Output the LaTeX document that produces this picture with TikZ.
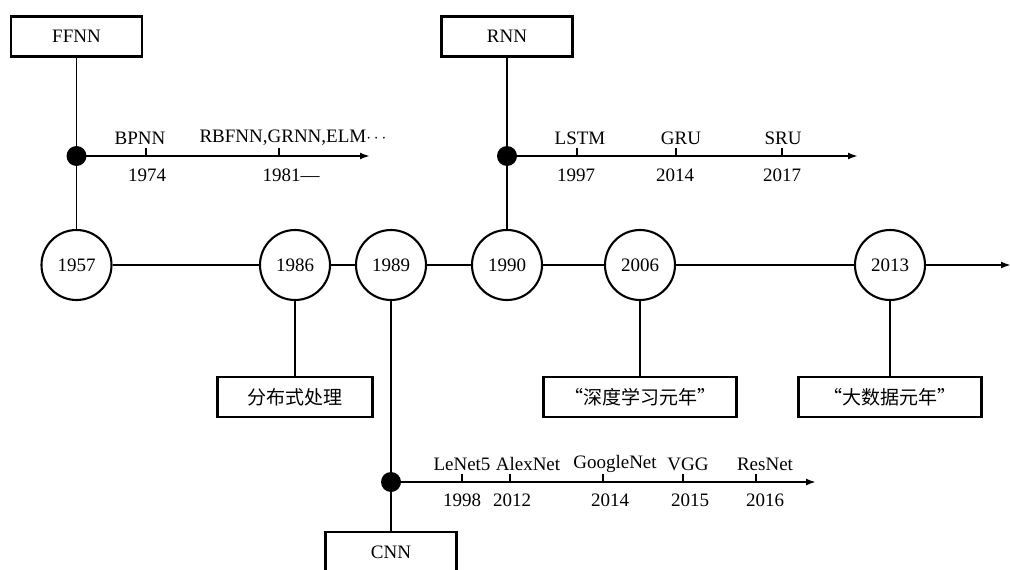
\documentclass[tikz,border=0pt]{standalone}
\usepackage{fontspec}
\setmainfont{Liberation Serif}
\newfontfamily\cjk{Noto Sans CJK SC}
\usetikzlibrary{arrows.meta}

\begin{document}
\begin{tikzpicture}[x=1pt,y=1pt,
    every node/.style={font=\fontsize{19}{21}\selectfont},
    yearnode/.style={circle,draw,line width=2.1pt,minimum size=70pt,inner sep=0pt,fill=white},
    namebox/.style={draw,line width=2.1pt,minimum width=131pt,minimum height=40pt,inner sep=0pt,fill=white},
    notebox/.style={draw,line width=2.1pt,minimum height=40pt,inner sep=0pt,fill=white,
      font=\fontsize{19}{21}\selectfont\cjk},
    blackdot/.style={circle,fill=black,minimum size=20pt,inner sep=0pt},
    mainline/.style={line width=2pt},
    subaxis/.style={line width=2pt,-{Latex[length=10pt,width=7pt]}},
    tickmark/.style={line width=1.5pt},
    link/.style={line width=1.1pt}]
  \useasboundingbox (0,0) rectangle (1010,-570);

  % main timeline
  \node[yearnode] (c1957) at (76.5,-265) {1957};
  \node[yearnode] (c1986) at (295,-265) {1986};
  \node[yearnode] (c1989) at (391,-265) {1989};
  \node[yearnode] (c1990) at (507,-265) {1990};
  \node[yearnode] (c2006) at (640,-265) {2006};
  \node[yearnode] (c2013) at (890,-265) {2013};
  \coordinate (mainend) at (1011,-265);
  \foreach \a/\b in {c1957/c1986,c1986/c1989,c1989/c1990,c1990/c2006,c2006/c2013}
    \draw[mainline] (\a) -- (\b);
  \draw[mainline,-{Latex[length=10pt,width=7pt]}] (c2013) -- (mainend);

  % network boxes
  \node[namebox] (ffnn) at (76.5,-36.5) {FFNN};
  \node[namebox] (rnn) at (507,-36.5) {RNN};
  \node[namebox] (cnn) at (391,-552) {CNN};

  % notes below
  \node[notebox,minimum width=155pt] (n1986) at (295,-397) {分布式处理};
  \node[notebox,minimum width=193pt] (n2006) at (640,-397) {“深度学习元年”};
  \node[notebox,minimum width=183pt] (n2013) at (890,-397) {“大数据元年”};
  \draw[link] (c1986) -- (n1986);
  \draw[link] (c2006) -- (n2006);
  \draw[link] (c2013) -- (n2013);

  % branch lines
  \draw[link] (ffnn) -- (c1957);
  \draw[link] (rnn) -- (c1990);
  \draw[link] (c1989) -- (cnn);
  \node[blackdot] (dffnn) at (76.5,-156) {};
  \node[blackdot] (drnn) at (507,-156) {};
  \node[blackdot] (dcnn) at (391,-482) {};

  % FFNN branch
  \coordinate (effnn) at (370,-156);
  \draw[subaxis] (dffnn.center) -- (effnn);
  \foreach \t/\a/\b/\up/\dn [count=\i] in {146/140/147/BPNN/1974,
      279/293/291/{RBFNN,GRNN,ELM$\cdots$}/1981---}{
    \draw[tickmark] (\t,-156) -- (\t,-148);
    \node (fup\i) at (\a,-138) {\up};
    \node (fdn\i) at (\b,-175) {\dn};
  }

  % RNN branch
  \coordinate (ernn) at (858,-156);
  \draw[subaxis] (drnn.center) -- (ernn);
  \foreach \t/\a/\b/\up/\dn [count=\i] in {577/580/576/LSTM/1997,
      676/681/675/GRU/2014, 782/783/782/SRU/2017}{
    \draw[tickmark] (\t,-156) -- (\t,-148);
    \node (rup\i) at (\a,-138) {\up};
    \node (rdn\i) at (\b,-175) {\dn};
  }

  % CNN branch
  \coordinate (ecnn) at (816,-482);
  \draw[subaxis] (dcnn.center) -- (ecnn);
  \foreach \t/\a/\b/\up/\dn [count=\i] in {462/462/462/LeNet5/1998,
      510/528/512/AlexNet/2012, 603/615/610/GoogleNet/2014,
      683/688/690/VGG/2015, 756/765/765/ResNet/2016}{
    \draw[tickmark] (\t,-482) -- (\t,-474);
    \node (cup\i) at (\a,-464) {\up};
    \node (cdn\i) at (\b,-500) {\dn};
  }
\end{tikzpicture}
\end{document}
